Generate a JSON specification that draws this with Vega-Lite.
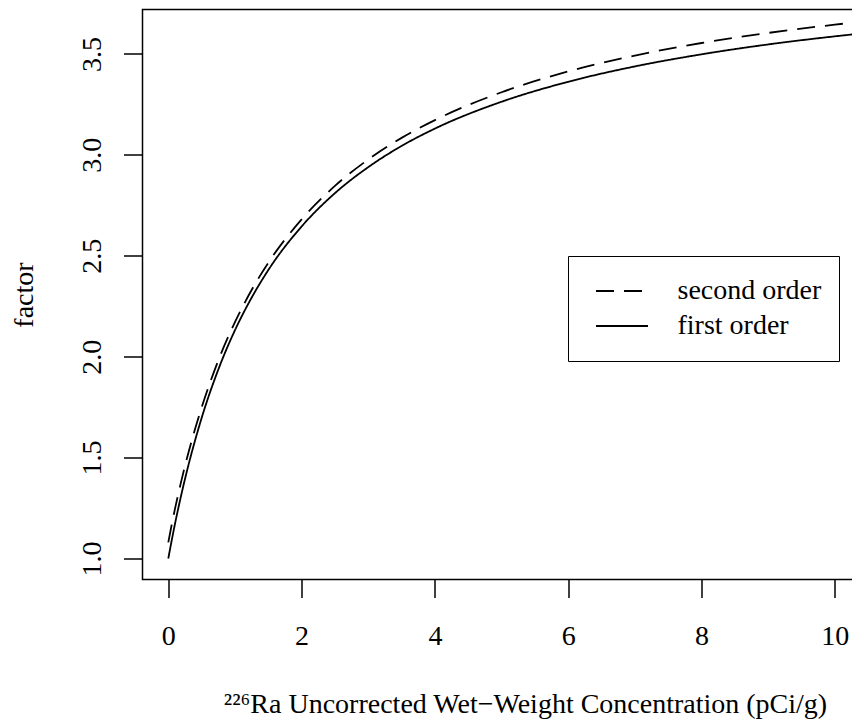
{
  "$schema": "https://vega.github.io/schema/vega-lite/v6.json",
  "width": 765,
  "height": 570,
  "autosize": {"type": "none"},
  "padding": {"left": 142.5, "top": 9.5, "right": 0, "bottom": 139.5},
  "background": "white",
  "config": {
    "font": "Liberation Serif",
    "view": {"stroke": "black", "strokeWidth": 1.5}
  },
  "data": {
    "values": [
      {"conc": 0, "factor": 1.000, "order": "first order"},
      {"conc": 0.05, "factor": 1.088, "order": "first order"},
      {"conc": 0.1, "factor": 1.171, "order": "first order"},
      {"conc": 0.15, "factor": 1.249, "order": "first order"},
      {"conc": 0.2, "factor": 1.323, "order": "first order"},
      {"conc": 0.3, "factor": 1.460, "order": "first order"},
      {"conc": 0.4, "factor": 1.583, "order": "first order"},
      {"conc": 0.5, "factor": 1.696, "order": "first order"},
      {"conc": 0.75, "factor": 1.936, "order": "first order"},
      {"conc": 1, "factor": 2.131, "order": "first order"},
      {"conc": 1.25, "factor": 2.292, "order": "first order"},
      {"conc": 1.5, "factor": 2.429, "order": "first order"},
      {"conc": 2, "factor": 2.645, "order": "first order"},
      {"conc": 2.5, "factor": 2.810, "order": "first order"},
      {"conc": 3, "factor": 2.939, "order": "first order"},
      {"conc": 3.5, "factor": 3.044, "order": "first order"},
      {"conc": 4, "factor": 3.130, "order": "first order"},
      {"conc": 5, "factor": 3.263, "order": "first order"},
      {"conc": 6, "factor": 3.362, "order": "first order"},
      {"conc": 7, "factor": 3.438, "order": "first order"},
      {"conc": 8, "factor": 3.498, "order": "first order"},
      {"conc": 9, "factor": 3.547, "order": "first order"},
      {"conc": 10, "factor": 3.587, "order": "first order"},
      {"conc": 11.1, "factor": 3.624, "order": "first order"},
      {"conc": 0, "factor": 1.080, "order": "second order"},
      {"conc": 0.05, "factor": 1.166, "order": "second order"},
      {"conc": 0.1, "factor": 1.246, "order": "second order"},
      {"conc": 0.15, "factor": 1.320, "order": "second order"},
      {"conc": 0.2, "factor": 1.391, "order": "second order"},
      {"conc": 0.3, "factor": 1.522, "order": "second order"},
      {"conc": 0.4, "factor": 1.640, "order": "second order"},
      {"conc": 0.5, "factor": 1.748, "order": "second order"},
      {"conc": 0.75, "factor": 1.981, "order": "second order"},
      {"conc": 1, "factor": 2.171, "order": "second order"},
      {"conc": 1.25, "factor": 2.330, "order": "second order"},
      {"conc": 1.5, "factor": 2.465, "order": "second order"},
      {"conc": 2, "factor": 2.680, "order": "second order"},
      {"conc": 2.5, "factor": 2.846, "order": "second order"},
      {"conc": 3, "factor": 2.977, "order": "second order"},
      {"conc": 3.5, "factor": 3.084, "order": "second order"},
      {"conc": 4, "factor": 3.172, "order": "second order"},
      {"conc": 5, "factor": 3.310, "order": "second order"},
      {"conc": 6, "factor": 3.413, "order": "second order"},
      {"conc": 7, "factor": 3.492, "order": "second order"},
      {"conc": 8, "factor": 3.554, "order": "second order"},
      {"conc": 9, "factor": 3.604, "order": "second order"},
      {"conc": 10, "factor": 3.645, "order": "second order"},
      {"conc": 11.1, "factor": 3.683, "order": "second order"}
    ]
  },
  "mark": {"type": "line", "color": "black", "strokeWidth": 1.8, "clip": true, "interpolate": "monotone"},
  "encoding": {
    "x": {
      "field": "conc",
      "type": "quantitative",
      "scale": {"domain": [-0.387, 11.09], "nice": false, "zero": false},
      "axis": {
        "values": [0, 2, 4, 6, 8, 10],
        "domain": false,
        "grid": false,
        "tickSize": 18,
        "tickWidth": 1.5,
        "tickColor": "black",
        "labelFontSize": 28,
        "labelColor": "black",
        "labelPadding": 24.5,
        "labelBaseline": "top",
        "title": "²²⁶Ra Uncorrected Wet−Weight Concentration (pCi/g)",
        "titleFontSize": 28,
        "titleFontWeight": "normal",
        "titleColor": "black",
        "titleBaseline": "alphabetic",
        "titleY": 132.5
      }
    },
    "y": {
      "field": "factor",
      "type": "quantitative",
      "scale": {"domain": [0.896, 3.72], "nice": false, "zero": false},
      "axis": {
        "values": [1, 1.5, 2, 2.5, 3, 3.5],
        "format": ".1f",
        "domain": false,
        "grid": false,
        "tickSize": 19,
        "tickWidth": 1.5,
        "tickColor": "black",
        "labelFontSize": 28,
        "labelColor": "black",
        "labelAngle": -90,
        "labelAlign": "center",
        "labelBaseline": "alphabetic",
        "labelPadding": 23,
        "title": "factor",
        "titleFontSize": 28,
        "titleFontWeight": "normal",
        "titleColor": "black",
        "titleAngle": -90,
        "titleAlign": "center",
        "titleBaseline": "alphabetic",
        "titleX": -110.5,
        "titleY": 285
      }
    },
    "strokeDash": {
      "field": "order",
      "type": "nominal",
      "scale": {"domain": ["second order", "first order"], "range": [[18, 10], [1, 0]]},
      "legend": {
        "title": null,
        "orient": "none",
        "legendX": 425.5,
        "legendY": 246.5,
        "padding": 17.5,
        "strokeColor": "black",
        "fillColor": "white",
        "symbolType": "stroke",
        "symbolSize": 2704,
        "symbolOffset": 9.5,
        "symbolStrokeWidth": 1.8,
        "symbolStrokeColor": "black",
        "clipHeight": 35,
        "labelFontSize": 28,
        "labelColor": "black",
        "labelOffset": 28.5,
        "rowPadding": 0
      }
    }
  }
}
